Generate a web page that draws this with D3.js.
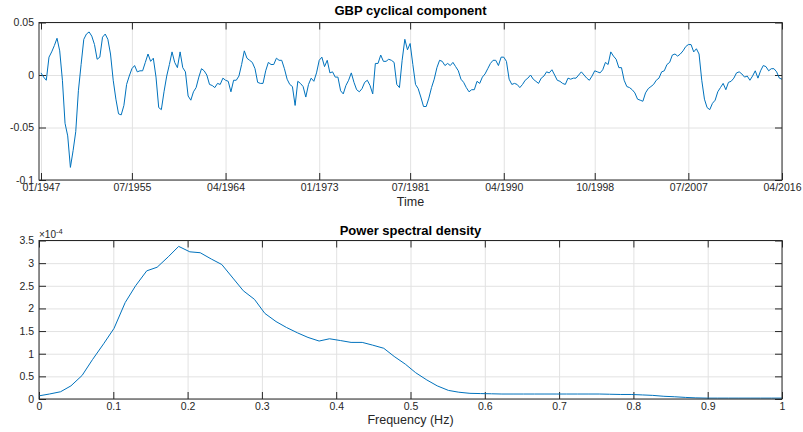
<!DOCTYPE html>
<html>
<head>
<meta charset="utf-8">
<script src="https://cdn.jsdelivr.net/npm/d3@7/dist/d3.min.js"></script>
<style>
  body { margin: 0; background: #fff; }
  svg { font-family: "Liberation Sans", Arial, Helvetica, sans-serif; }
</style>
</head>
<body>
<div id="chart"></div>
<script>
const width = 803;
const height = 432;

// GBP cyclical component, one value per quarter starting 01/1947
const cycle_values = [
   0.002, -0.002, -0.005,  0.017,  0.022,  0.028,  0.035,  0.023, -0.005, -0.046,
  -0.058, -0.088, -0.072, -0.054, -0.015,  0.010,  0.034,  0.039,  0.041,  0.037,
   0.029,  0.015,  0.017,  0.036,  0.039,  0.034,  0.020, -0.005, -0.023, -0.037,
  -0.038, -0.029, -0.009, -0.001,  0.006,  0.009,  0.003,  0.004,  0.004,  0.012,
   0.020,  0.013,  0.016, -0.002, -0.031, -0.033, -0.016, -0.001,  0.010,  0.022,
   0.012,  0.007,  0.022,  0.007,  0.003, -0.020, -0.024, -0.016, -0.012, -0.002,
   0.006,  0.004,  0.000, -0.009, -0.010, -0.012, -0.008, -0.009, -0.003, -0.005,
  -0.006, -0.016, -0.005, -0.005, -0.001,  0.010,  0.023,  0.016,  0.014,  0.012,
   0.006, -0.007, -0.008, -0.008,  0.004,  0.012,  0.010,  0.010,  0.016,  0.014,
   0.014,  0.006, -0.004, -0.009, -0.011, -0.029, -0.006, -0.008, -0.011, -0.021,
  -0.009, -0.003, -0.006,  0.002,  0.014,  0.017,  0.008,  0.014,  0.002,  0.003,
  -0.002, -0.002, -0.015, -0.018, -0.010, -0.005,  0.002, -0.007, -0.014, -0.016,
  -0.013, -0.007, -0.005, -0.010, -0.018,  0.011,  0.011,  0.019,  0.013,  0.013,
   0.015,  0.014,  0.012, -0.009, -0.012,  0.014,  0.034,  0.024,  0.030,  0.010,
  -0.009, -0.013, -0.021, -0.030, -0.030, -0.022, -0.012, -0.004,  0.007,  0.014,
   0.013,  0.009,  0.011,  0.009,  0.012,  0.008,  0.004, -0.004, -0.007, -0.012,
  -0.016, -0.014, -0.014, -0.006, -0.008, -0.002,  0.001,  0.006,  0.011,  0.014,
   0.014,  0.009,  0.017,  0.017,  0.013, -0.004, -0.009, -0.008, -0.009, -0.012,
  -0.009, -0.005, -0.003,  0.000, -0.004, -0.006, -0.008, -0.003, -0.001,  0.003,
   0.002,  0.005,  0.000, -0.005, -0.006, -0.008, -0.009, -0.003, -0.004, -0.003,
  -0.003,  0.000,  0.003,  0.000, -0.003, -0.005, -0.001,  0.004,  0.003,  0.002,
   0.005,  0.012,  0.010,  0.022,  0.018,  0.015,  0.007,  0.007, -0.005, -0.011,
  -0.012, -0.014, -0.017, -0.023, -0.024, -0.025, -0.017, -0.013, -0.011, -0.009,
  -0.005, -0.003,  0.003,  0.004,  0.010,  0.012,  0.019,  0.020,  0.018,  0.020,
   0.023,  0.027,  0.029,  0.029,  0.022,  0.025,  0.020, -0.005, -0.023, -0.031,
  -0.033, -0.027, -0.024, -0.016, -0.012, -0.008, -0.014, -0.007, -0.006, -0.003,
   0.002,  0.003,  0.001, -0.002, -0.001, -0.005, -0.001,  0.004, -0.003,  0.004,
   0.009,  0.008,  0.004,  0.006,  0.006,  0.003, -0.003, -0.004
];
const time_ticks = ['01/1947', '07/1955', '04/1964', '01/1973', '07/1981', '04/1990', '10/1998', '07/2007', '04/2016'];
const cycle_y_ticks = [-0.1, -0.05, 0, 0.05];
const cycle_y_labels = ['-0.1', '-0.05', '0', '0.05'];

// power spectral density (units of 1e-4)
const psd_freq = [
  0.000, 0.014, 0.029, 0.043, 0.058, 0.072, 0.087, 0.101, 0.116, 0.130,
  0.145, 0.159, 0.174, 0.188, 0.203, 0.217, 0.232, 0.246, 0.261, 0.275,
  0.290, 0.304, 0.319, 0.333, 0.348, 0.362, 0.377, 0.391, 0.406, 0.420,
  0.435, 0.449, 0.464, 0.478, 0.493, 0.507, 0.522, 0.536, 0.551, 0.565,
  0.580, 0.594, 0.609, 0.623, 0.638, 0.652, 0.667, 0.681, 0.696, 0.710,
  0.725, 0.739, 0.754, 0.768, 0.783, 0.797, 0.812, 0.826, 0.841, 0.855,
  0.870, 0.884, 0.899, 0.913, 0.928, 0.942, 0.957, 0.971, 0.986, 1.000
];
const psd_values = [
  0.07, 0.11, 0.16, 0.29, 0.52, 0.87, 1.22, 1.56, 2.13, 2.50,
  2.83, 2.91, 3.14, 3.37, 3.25, 3.23, 3.09, 2.97, 2.67, 2.39,
  2.20, 1.89, 1.71, 1.58, 1.46, 1.36, 1.28, 1.33, 1.29, 1.25,
  1.25, 1.19, 1.12, 0.94, 0.77, 0.58, 0.42, 0.29, 0.19, 0.15,
  0.125, 0.12, 0.115, 0.11, 0.11, 0.11, 0.11, 0.11, 0.11, 0.11,
  0.11, 0.11, 0.11, 0.105, 0.10, 0.10, 0.09, 0.08, 0.06, 0.05,
  0.035, 0.025, 0.02, 0.02, 0.02, 0.02, 0.02, 0.02, 0.02, 0.02
];
const freq_ticks = [0, 0.1, 0.2, 0.3, 0.4, 0.5, 0.6, 0.7, 0.8, 0.9, 1];
const freq_labels = ['0', '0.1', '0.2', '0.3', '0.4', '0.5', '0.6', '0.7', '0.8', '0.9', '1'];
const psd_y_ticks = [0, 0.5, 1, 1.5, 2, 2.5, 3, 3.5];
const psd_y_labels = ['0', '0.5', '1', '1.5', '2', '2.5', '3', '3.5'];

const line_color = '#0072bd';
const axis_color = '#262626';
const grid_color = '#e2e2e2';
const tick_len = 7;

const svg = d3.select('#chart')
  .append('svg')
    .attr('width', width)
    .attr('height', height);

const parse_tick = d3.timeParse('%m/%Y');
const cycle_data = cycle_values.map((v, i) => ({ date: new Date(1947, 3 * i, 1), value: v }));
const psd_data = psd_values.map((v, i) => ({ f: psd_freq[i], value: v }));

// draw one axes box: grid, inward ticks on all four sides, labels
let draw_axes = (g, x, y, w, h, xt, xl, yt, yl) => {
  g.append('g')
      .attr('transform', 'translate(0,' + h + ')')
      .call(d3.axisBottom(x).tickValues(xt).tickSize(-h).tickFormat(''))
      .call(a => a.select('.domain').remove())
      .call(a => a.selectAll('line').attr('stroke', grid_color));
  g.append('g')
      .call(d3.axisLeft(y).tickValues(yt).tickSize(-w).tickFormat(''))
      .call(a => a.select('.domain').remove())
      .call(a => a.selectAll('line').attr('stroke', grid_color));

  let style = a => {
    a.select('.domain').remove();
    a.selectAll('line').attr('stroke', axis_color);
    a.selectAll('text').attr('fill', axis_color).attr('font-size', 10.5);
  };
  g.append('g')
      .attr('transform', 'translate(0,' + h + ')')
      .call(d3.axisBottom(x).tickValues(xt).tickSizeInner(-tick_len).tickSizeOuter(0)
        .tickPadding(3.5).tickFormat((d, i) => xl[i]))
      .call(style);
  g.append('g')
      .call(d3.axisTop(x).tickValues(xt).tickSizeInner(-tick_len).tickSizeOuter(0).tickFormat(''))
      .call(style);
  g.append('g')
      .call(d3.axisLeft(y).tickValues(yt).tickSizeInner(-tick_len).tickSizeOuter(0)
        .tickPadding(5).tickFormat((d, i) => yl[i]))
      .call(style);
  g.append('g')
      .attr('transform', 'translate(' + w + ',0)')
      .call(d3.axisRight(y).tickValues(yt).tickSizeInner(-tick_len).tickSizeOuter(0).tickFormat(''))
      .call(style);
};

let draw_box = (g, w, h) => {
  g.append('rect')
      .attr('width', w)
      .attr('height', h)
      .attr('fill', 'none')
      .attr('stroke', axis_color)
      .attr('stroke-width', 1);
};

// ---- top: GBP cyclical component
const top_m = { left: 39, top: 22.5, w: 743, h: 157.5 };
const g1 = svg.append('g')
    .attr('transform', 'translate(' + top_m.left + ',' + top_m.top + ')');

const x_time = d3.scaleTime()
  .domain([new Date(1946, 9, 25), new Date(2016, 3, 1)])
  .range([0, top_m.w]);
const y_cycle = d3.scaleLinear()
  .domain([-0.1, 0.05])
  .range([top_m.h, 0]);

draw_axes(g1, x_time, y_cycle, top_m.w, top_m.h,
  time_ticks.map(parse_tick), time_ticks, cycle_y_ticks, cycle_y_labels);

g1.append('path')
    .datum(cycle_data)
    .attr('fill', 'none')
    .attr('stroke', line_color)
    .attr('stroke-width', 1)
    .attr('stroke-linejoin', 'round')
    .attr('d', d3.line().x(d => x_time(d.date)).y(d => y_cycle(d.value)));

draw_box(g1, top_m.w, top_m.h);

g1.append('text')
    .attr('x', top_m.w / 2)
    .attr('y', -7.5)
    .attr('text-anchor', 'middle')
    .attr('font-weight', 'bold')
    .attr('font-size', 13)
    .attr('fill', '#000')
    .text('GBP cyclical component');
g1.append('text')
    .attr('x', top_m.w / 2)
    .attr('y', top_m.h + 25.5)
    .attr('text-anchor', 'middle')
    .attr('font-size', 12.5)
    .attr('fill', axis_color)
    .text('Time');

// ---- bottom: power spectral density
const bot_m = { left: 39, top: 240.5, w: 743, h: 158.5 };
const g2 = svg.append('g')
    .attr('transform', 'translate(' + bot_m.left + ',' + bot_m.top + ')');

const x_freq = d3.scaleLinear()
  .domain([0, 1])
  .range([0, bot_m.w]);
const y_psd = d3.scaleLinear()
  .domain([0, 3.5])
  .range([bot_m.h, 0]);

draw_axes(g2, x_freq, y_psd, bot_m.w, bot_m.h,
  freq_ticks, freq_labels, psd_y_ticks, psd_y_labels);

g2.append('path')
    .datum(psd_data)
    .attr('fill', 'none')
    .attr('stroke', line_color)
    .attr('stroke-width', 1)
    .attr('stroke-linejoin', 'round')
    .attr('d', d3.line().x(d => x_freq(d.f)).y(d => y_psd(d.value)));

draw_box(g2, bot_m.w, bot_m.h);

g2.append('text')
    .attr('x', bot_m.w / 2)
    .attr('y', -5.5)
    .attr('text-anchor', 'middle')
    .attr('font-weight', 'bold')
    .attr('font-size', 13)
    .attr('fill', '#000')
    .text('Power spectral density');
g2.append('text')
    .attr('x', bot_m.w / 2)
    .attr('y', bot_m.h + 25)
    .attr('text-anchor', 'middle')
    .attr('font-size', 12.5)
    .attr('fill', axis_color)
    .text('Frequency (Hz)');

const expo = g2.append('text')
    .attr('x', 0)
    .attr('y', -2.5)
    .attr('font-size', 10)
    .attr('fill', axis_color);
expo.append('tspan').text('\u00d710');
expo.append('tspan')
    .attr('dy', -4)
    .attr('font-size', 7.5)
    .text('-4');
</script>
</body>
</html>
